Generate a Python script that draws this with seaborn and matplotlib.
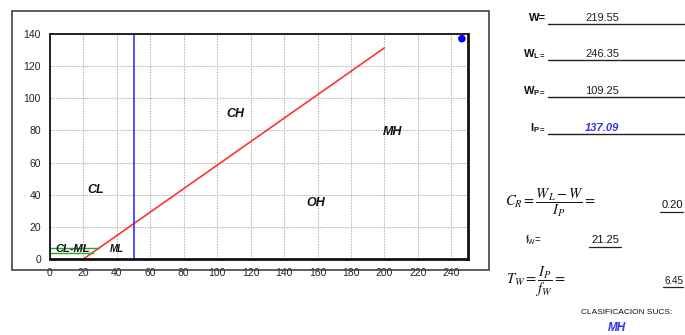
"""Carta de plasticidad (SUCS) con datos del ensayo."""

import matplotlib.pyplot as plt
import pandas as pd
import seaborn as sns
from matplotlib.lines import Line2D
from matplotlib.patches import Rectangle

# datos
a_line_ll = [20, 200]
a_line_pi = [0, 131.4]
b_line_ll = [50, 50]
b_line_pi = [0, 140]
clml_low_ll = [0, 25.5]
clml_low_pi = [4, 4]
clml_high_ll = [0, 29.6]
clml_high_pi = [7, 7]
sample_ll = [246.35]
sample_pi = [137.09]

x_ticks = list(range(0, 241, 20))
y_ticks = list(range(0, 141, 20))

zone_names = ["CL", "CH", "MH", "OH", "ML", "CL-ML"]
zone_x = [27.5, 111, 205, 159, 40, 13.5]
zone_y = [43, 90, 79, 35, 6, 6]
zone_size = [9, 9, 9, 9, 7, 8]

w_value = "219.55"
wl_value = "246.35"
wp_value = "109.25"
ip_value = "137.09"
cr_value = "0.20"
fw_value = "21.25"
tw_value = "6.45"
sucs_class = "MH"

sns.set_style("white")
plt.rcParams["font.family"] = ["Liberation Sans", "DejaVu Sans"]
plt.rcParams["mathtext.fontset"] = "stix"

fig = plt.figure(figsize=(6.85, 3.35), dpi=100)
ax = fig.add_axes([50 / 685, 1 - 259 / 335, 418 / 685, 225 / 335])


def draw_line(lls, pis, color, lw):
    data = pd.DataFrame({"ll": lls, "pi": pis})
    sns.lineplot(data=data, x="ll", y="pi", estimator=None, sort=False,
                 color=color, linewidth=lw, ax=ax)


draw_line(a_line_ll, a_line_pi, "#ff3333", 1.2)
draw_line(b_line_ll, b_line_pi, "#3333ff", 1.2)
draw_line(clml_low_ll, clml_low_pi, "#22aa22", 1.0)
draw_line(clml_high_ll, clml_high_pi, "#22aa22", 1.0)
sns.scatterplot(data=pd.DataFrame({"ll": sample_ll, "pi": sample_pi}), x="ll", y="pi",
                color="#0000ff", s=30, edgecolor="none", zorder=5, ax=ax)

for name, x, y, size in zip(zone_names, zone_x, zone_y, zone_size):
    ax.text(x, y, name, fontsize=size, fontweight="bold", fontstyle="italic",
            ha="center", va="center", color="#111111")

ax.set_xlim(0, 250)
ax.set_ylim(0, 140)
ax.set_xticks(x_ticks)
ax.set_yticks(y_ticks)
ax.set_xlabel("")
ax.set_ylabel("")
ax.tick_params(labelsize=7.5, colors="#222233", length=3, width=1)
ax.grid(True, color="#bbbbbb", linestyle=(0, (1.5, 1)), linewidth=0.8)
for side in ["left", "bottom", "top", "right"]:
    ax.spines[side].set_color("#111111")
    ax.spines[side].set_linewidth(1.3)
ax.spines["right"].set_linewidth(2.0)
ax.spines["bottom"].set_linewidth(2.0)

# marco exterior
fig.add_artist(Rectangle((12 / 685, 1 - 270 / 335), 477 / 685, 259 / 335,
                         transform=fig.transFigure, fill=False,
                         edgecolor="#444444", linewidth=1.2))

# panel derecho
rows = [
    (r"W=", w_value, 18, "#222222", "normal"),
    (r"W$_{\mathregular{L=}}$", wl_value, 54, "#222222", "normal"),
    (r"W$_{\mathregular{P=}}$", wp_value, 91, "#222222", "normal"),
    (r"I$_{\mathregular{P=}}$", ip_value, 128, "#3333ee", "italic"),
]
for label, value, ypix, vcolor, vstyle in rows:
    fig.text(546 / 685, 1 - ypix / 335, label, ha="right", va="center",
             fontsize=8, fontweight="bold", color="#111111")
    fig.text(602 / 685, 1 - ypix / 335, value, ha="center", va="center",
             fontsize=8, color=vcolor, fontstyle=vstyle,
             fontweight="bold" if vstyle == "italic" else "normal")
    yl = 1 - (ypix + 6) / 335
    fig.add_artist(Line2D([548 / 685, 685 / 685], [yl, yl], color="#222222",
                          linewidth=1.0, transform=fig.transFigure))

fig.text(505 / 685, 1 - 203 / 335, r"$C_R = \dfrac{W_L - W}{I_P} =$",
         ha="left", va="center", fontsize=10.5, color="#111111")
fig.text(683 / 685, 1 - 205 / 335, cr_value, ha="right", va="center",
         fontsize=8, color="#111111")
fig.add_artist(Line2D([660 / 685, 683 / 685], [1 - 212 / 335, 1 - 212 / 335],
                      color="#222222", linewidth=0.9, transform=fig.transFigure))

fig.text(525 / 685, 1 - 240 / 335, r"f$_{\mathregular{W}}$=", ha="left", va="center",
         fontsize=7, color="#111111")
fig.text(605 / 685, 1 - 240 / 335, fw_value, ha="center", va="center",
         fontsize=8, color="#111111")
fig.add_artist(Line2D([589 / 685, 621 / 685], [1 - 247 / 335, 1 - 247 / 335],
                      color="#222222", linewidth=0.9, transform=fig.transFigure))

fig.text(506 / 685, 1 - 282 / 335, r"$T_W = \dfrac{I_P}{f_W} =$",
         ha="left", va="center", fontsize=10.5, color="#111111")
fig.text(683 / 685, 1 - 281 / 335, tw_value, ha="right", va="center",
         fontsize=7, color="#111111")
fig.add_artist(Line2D([663 / 685, 683 / 685], [1 - 287 / 335, 1 - 287 / 335],
                      color="#222222", linewidth=0.9, transform=fig.transFigure))

fig.text(627 / 685, 1 - 313 / 335, "CLASIFICACION SUCS:", ha="center", va="center",
         fontsize=6, color="#111111")
fig.text(617 / 685, 1 - 328 / 335, sucs_class, ha="center", va="center",
         fontsize=8.5, fontweight="bold", fontstyle="italic", color="#3333ee")

fig.savefig("out.png", dpi=100)
